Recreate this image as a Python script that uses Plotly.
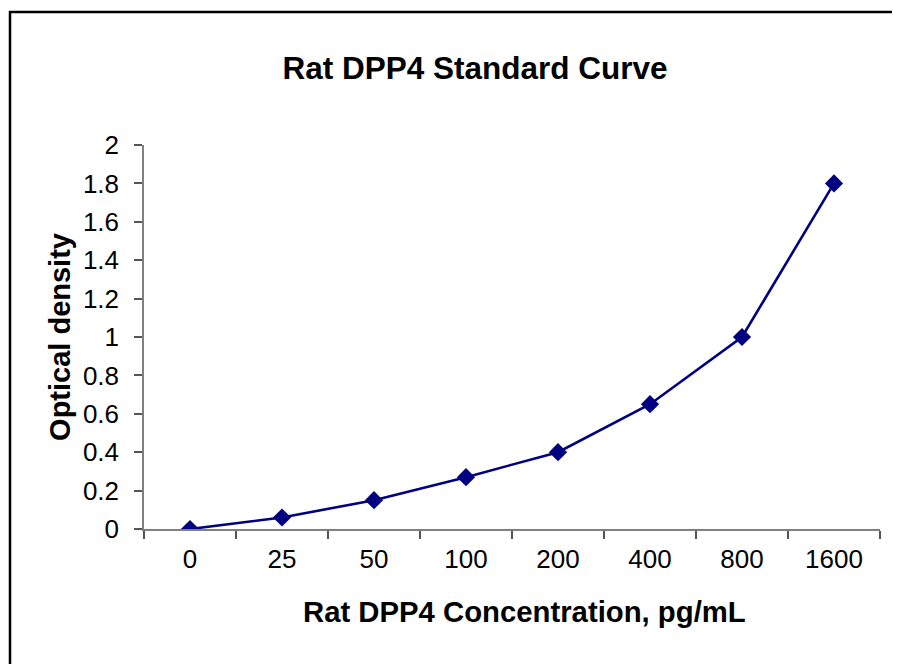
import plotly.graph_objects as go

categories = ["0", "25", "50", "100", "200", "400", "800", "1600"]
optical_density = [0.0, 0.06, 0.15, 0.27, 0.40, 0.65, 1.0, 1.8]

title_text = "Rat DPP4 Standard Curve"
x_title = "Rat DPP4 Concentration, pg/mL"
y_title = "Optical density"

FONT = "Liberation Sans, Arial, sans-serif"
NAVY = "#000080"

# plot area in figure pixel coordinates
L, R, T, B = 136, 872, 137, 521
W, H = 900, 664
pw, ph = R - L, B - T

fig = go.Figure()
fig.add_trace(go.Scatter(
    x=categories, y=optical_density, mode="lines+markers",
    line=dict(color=NAVY, width=2.6),
    marker=dict(symbol="diamond", size=14, color=NAVY),
    showlegend=False,
))

fig.update_layout(
    width=W, height=H,
    margin=dict(l=L, r=W - R, t=T, b=H - B),
    paper_bgcolor="white", plot_bgcolor="white",
    font=dict(family=FONT, color="black"),
    title=dict(text="<b>" + title_text + "</b>", x=467/W, xanchor="center",
               y=1 - 60/H, yanchor="middle", font=dict(size=31.5, family=FONT)),
)

fig.update_xaxes(
    type="category", range=[-0.5, 7.5],
    showline=True, linecolor="#808080", linewidth=1.5,
    showgrid=False, zeroline=False,
    ticks="outside", ticklen=8, tickcolor="#555555", tickwidth=1.5,
    tickson="boundaries",
    tickfont=dict(size=26, family=FONT),
    ticklabelstandoff=6,
)
fig.update_yaxes(
    range=[0, 2], dtick=0.2, tick0=0,
    showline=True, linecolor="#808080", linewidth=1.5,
    showgrid=False, zeroline=False,
    ticks="outside", ticklen=8, tickcolor="#555555", tickwidth=1.5,
    tickfont=dict(size=26, family=FONT),
    ticklabelstandoff=10,
    title=dict(text="<b>" + y_title + "</b>", font=dict(size=29, family=FONT), standoff=4),
)

# X axis title (offset to the right as in the original)
fig.add_annotation(text="<b>" + x_title + "</b>", xref="paper", yref="paper",
                   x=(516 - L) / pw, y=(B - 603) / ph, xanchor="center", yanchor="middle",
                   showarrow=False, font=dict(size=29.3, family=FONT, color="black"))

# Outer chart frame (Excel chart border)
fig.add_shape(type="rect", xref="paper", yref="paper",
              x0=(2 - L) / pw, x1=(910 - L) / pw,
              y0=(B - 680) / ph, y1=(B - 4) / ph,
              line=dict(color="black", width=2.5), fillcolor="rgba(0,0,0,0)",
              layer="below")

fig.write_html("out.html")
